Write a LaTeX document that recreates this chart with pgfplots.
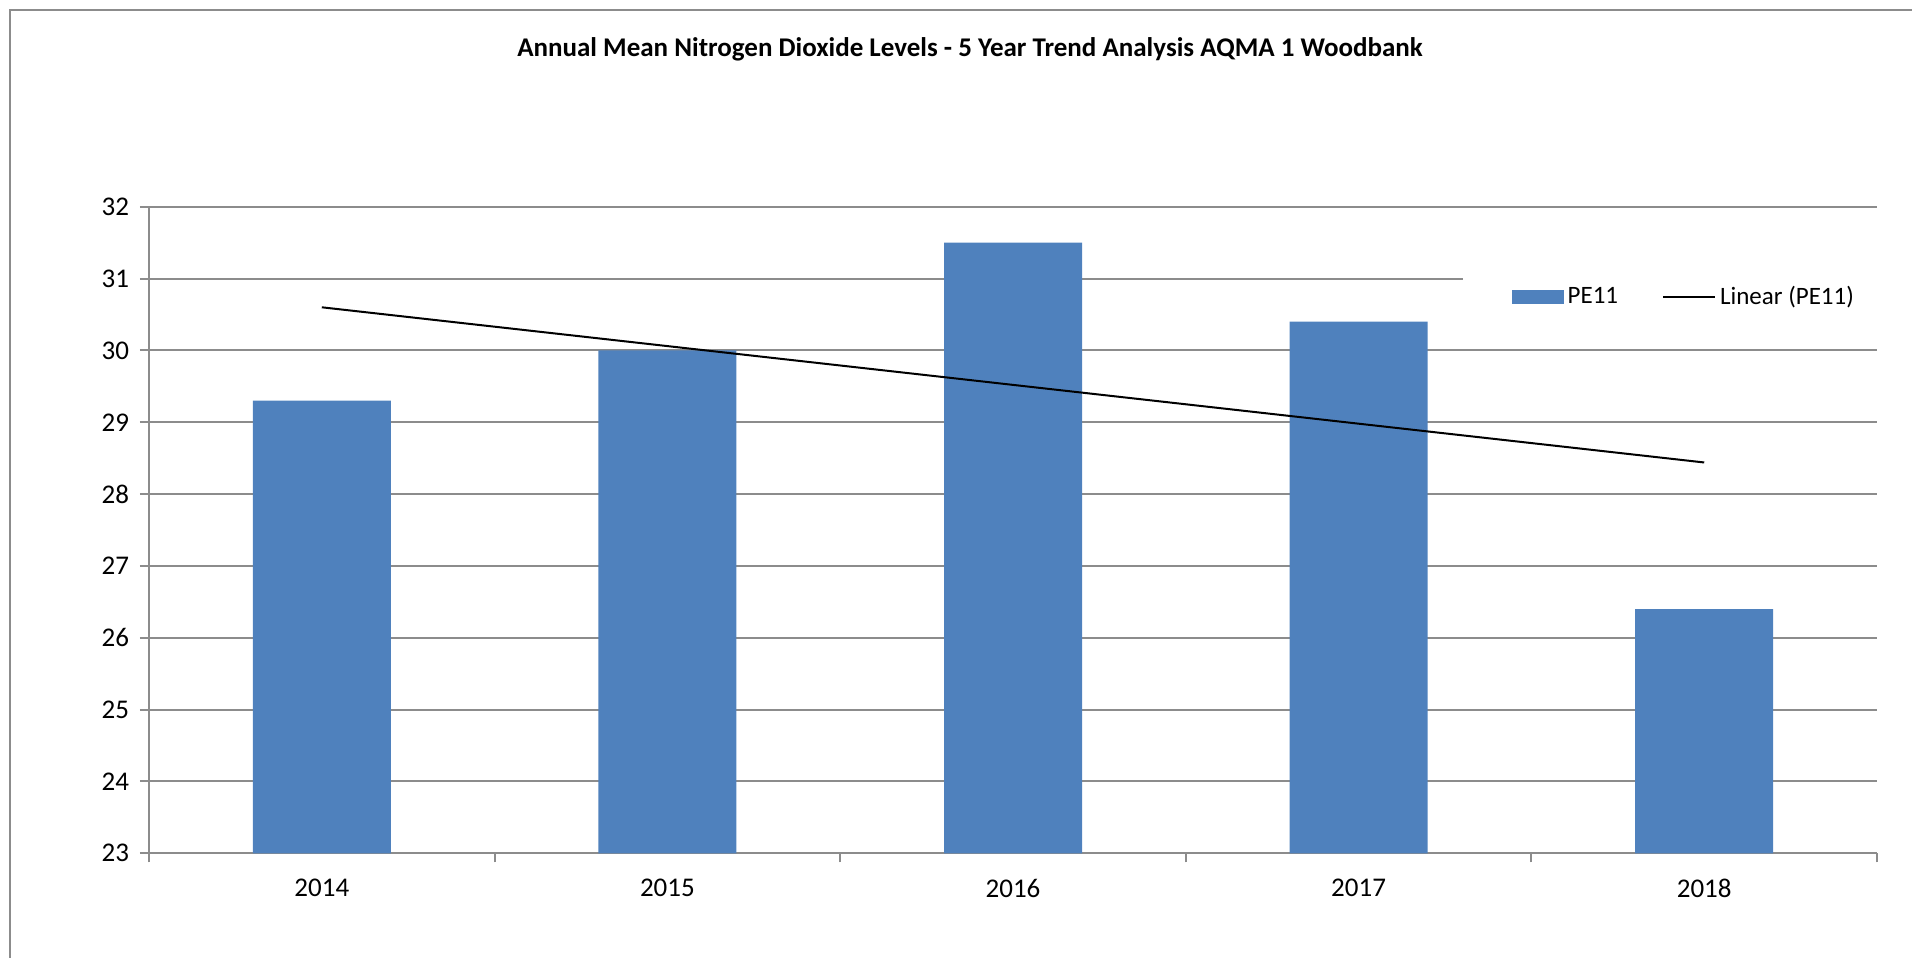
\documentclass[border=0pt]{standalone}
\usepackage{pgfplots}
\pgfplotsset{compat=1.18}
\usepackage{fontspec}
\setmainfont{Carlito}
\definecolor{barblue}{HTML}{4F81BD}
\definecolor{axgray}{HTML}{8C8C8C}
\begin{document}
\begin{tikzpicture}
\useasboundingbox (0pt,0pt) rectangle (956pt,479pt);
\draw[axgray,line width=1.2pt] (5pt,0pt) -- (5pt,474pt) -- (956pt,474pt);
\node[font=\bfseries\fontsize{13.5}{15}\selectfont] at (485pt,454.5pt) {Annual Mean Nitrogen Dioxide Levels - 5 Year Trend Analysis AQMA 1 Woodbank};
\begin{axis}[
  at={(74.5pt,52.35pt)}, anchor=south west,
  scale only axis, width=864pt, height=323.3pt,
  xmin=-0.5, xmax=4.5, ymin=23, ymax=32,
  ytick={23,...,32},
  xtick={0,...,4}, xticklabels={2014,2015,2016,2017,2018},
  minor xtick={-0.5,0.5,...,4.5},
  major x tick style={draw=none},
  tick align=outside, major tick length=4.5pt, minor tick length=4.5pt,
  tick style={axgray, line width=1pt},
  axis x line*=bottom, axis y line*=left,
  axis line style={axgray, line width=1pt, -},
  ymajorgrids, grid style={axgray, line width=1pt},
  /pgf/number format/assume math mode=true,
  ticklabel style={font=\fontsize{13.5}{15}\selectfont},
  xticklabel style={yshift=-5pt},
  yticklabel style={xshift=-2pt},
  legend style={draw=none, fill=white, at={(0.760,0.860)}, anchor=west,
    legend columns=2, font=\fontsize{12.5}{14}\selectfont,
    inner xsep=24.5pt, inner ysep=10pt,
    /tikz/every even column/.append style={column sep=20pt}},
  legend cell align=left,
]
\addplot[ybar, bar width=69pt, fill=barblue, draw=none,
  legend image code/.code={\fill[barblue] (0pt,-3.5pt) rectangle (26pt,3.5pt);}]
  coordinates {(0,29.3) (1,30.0) (2,31.5) (3,30.4) (4,26.4)};
\addlegendentry{PE11}
\addplot[black, line width=1pt, no marks,
  legend image code/.code={\draw[black,line width=1pt] (0pt,0pt) -- (26pt,0pt);}]
  coordinates {(0,30.60) (4,28.44)};
\addlegendentry{Linear (PE11)}
\end{axis}
\end{tikzpicture}
\end{document}
